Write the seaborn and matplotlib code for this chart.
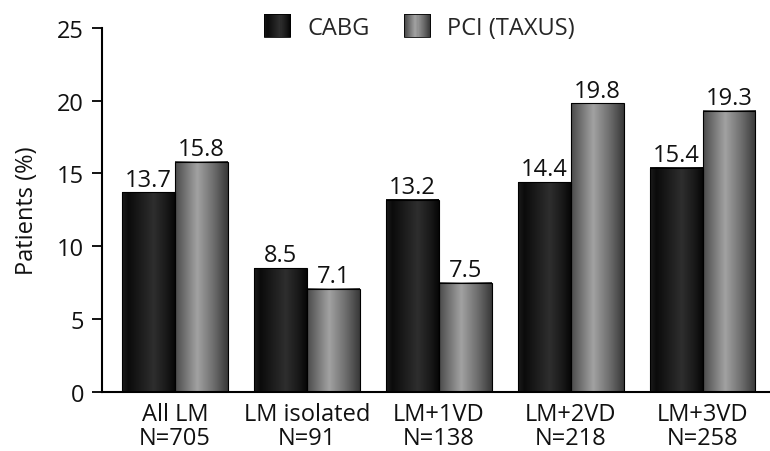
import numpy as np
import pandas as pd
import matplotlib
matplotlib.use("Agg")
import matplotlib.pyplot as plt
import seaborn as sns
from matplotlib.colors import LinearSegmentedColormap
from matplotlib.legend_handler import HandlerBase
from matplotlib.patches import Rectangle

# Event rates by left-main disease subset
groups = ["All LM", "LM isolated", "LM+1VD", "LM+2VD", "LM+3VD"]
group_n = [705, 91, 138, 218, 258]
cabg = [13.7, 8.5, 13.2, 14.4, 15.4]
pci = [15.8, 7.1, 7.5, 19.8, 19.3]
series = ["CABG", "PCI (TAXUS)"]
yticks = [0, 5, 10, 15, 20, 25]

df = pd.DataFrame({
    "group": groups * 2,
    "arm": [series[0]] * len(groups) + [series[1]] * len(groups),
    "value": cabg + pci,
})

sns.set_theme(style="white")
plt.rcParams["font.family"] = ["Open Sans", "DejaVu Sans"]
FS = 17
INK = "#111111"

# cylinder-like shading for each arm
shades = {
    series[0]: LinearSegmentedColormap.from_list(
        "cabg", [(0.0, "#1c1c1c"), (0.12, "#0b0b0b"), (0.6, "#2e2e2e"),
                 (0.85, "#181818"), (1.0, "#060606")]),
    series[1]: LinearSegmentedColormap.from_list(
        "pci", [(0.0, "#4a4a4a"), (0.42, "#a2a2a2"), (0.75, "#6a6a6a"),
                (1.0, "#383838")]),
}
ramp = np.linspace(0, 1, 256).reshape(1, -1)

fig = plt.figure(figsize=(7.7, 4.52), dpi=100)
ax = fig.add_axes([0.1325, 0.1305, 0.8675, 0.806])
sns.barplot(data=df, x="group", y="value", hue="arm", hue_order=series,
            order=groups, width=0.8, ax=ax, legend=False,
            edgecolor="black", linewidth=0.8, saturation=1)

bars = [p for p in ax.patches if isinstance(p, Rectangle) and p.get_height() > 0]
arms = [series[0]] * len(cabg) + [series[1]] * len(pci)
vals = cabg + pci
for patch, arm, v in zip(bars, arms, vals):
    x, w, h = patch.get_x(), patch.get_width(), patch.get_height()
    patch.set_facecolor("none")
    patch.set_zorder(3)
    ax.imshow(ramp, cmap=shades[arm], aspect="auto", extent=[x, x + w, 0, h],
              zorder=2, interpolation="bicubic")
    ax.text(x + w / 2, v + 0.05, f"{v:.1f}", ha="center", va="bottom",
            fontsize=FS, color=INK)

ax.set_xlim(-0.553, len(groups) - 0.49)
ax.set_ylim(0, 25)
ax.set_yticks(yticks)
ax.set_yticklabels([str(t) for t in yticks], fontsize=FS, color=INK)
ax.set_xticks(range(len(groups)))
ax.set_xticklabels([f"{g}\nN={n}" for g, n in zip(groups, group_n)],
                   fontsize=FS, color=INK, linespacing=1.0)
ax.tick_params(axis="y", length=7, width=1.3, color="black", direction="out",
               left=True, pad=6)
ax.tick_params(axis="x", length=0, pad=7)
ax.set_xlabel("")
ax.set_ylabel("Patients (%)", fontsize=FS, color=INK, labelpad=13)

sns.despine(ax=ax)
for side in ("left", "bottom"):
    ax.spines[side].set_color("black")
    ax.spines[side].set_linewidth(1.5)


class GradientHandler(HandlerBase):
    def __init__(self, cmap):
        super().__init__()
        self.cmap = cmap

    def create_artists(self, legend, orig_handle, xdescent, ydescent,
                       width, height, fontsize, trans):
        artists = []
        n = 24
        for i in range(n):
            artists.append(Rectangle((-xdescent + width * i / n, -ydescent),
                                     width / n + 0.3, height,
                                     facecolor=self.cmap((i + 0.5) / n),
                                     edgecolor="none", transform=trans))
        artists.append(Rectangle((-xdescent, -ydescent), width, height,
                                 facecolor="none", edgecolor="black",
                                 linewidth=0.6, transform=trans))
        return artists


handles = [Rectangle((0, 0), 1, 1) for _ in series]
fig.legend(handles, series, loc="center", bbox_to_anchor=(0.545, 0.938),
           ncol=2, frameon=False, fontsize=FS, handlelength=1.1,
           handleheight=1.1, handletextpad=0.72, columnspacing=1.48,
           borderpad=0, handler_map={h: GradientHandler(shades[s])
                                     for h, s in zip(handles, series)})

fig.savefig("out.png", dpi=100)
